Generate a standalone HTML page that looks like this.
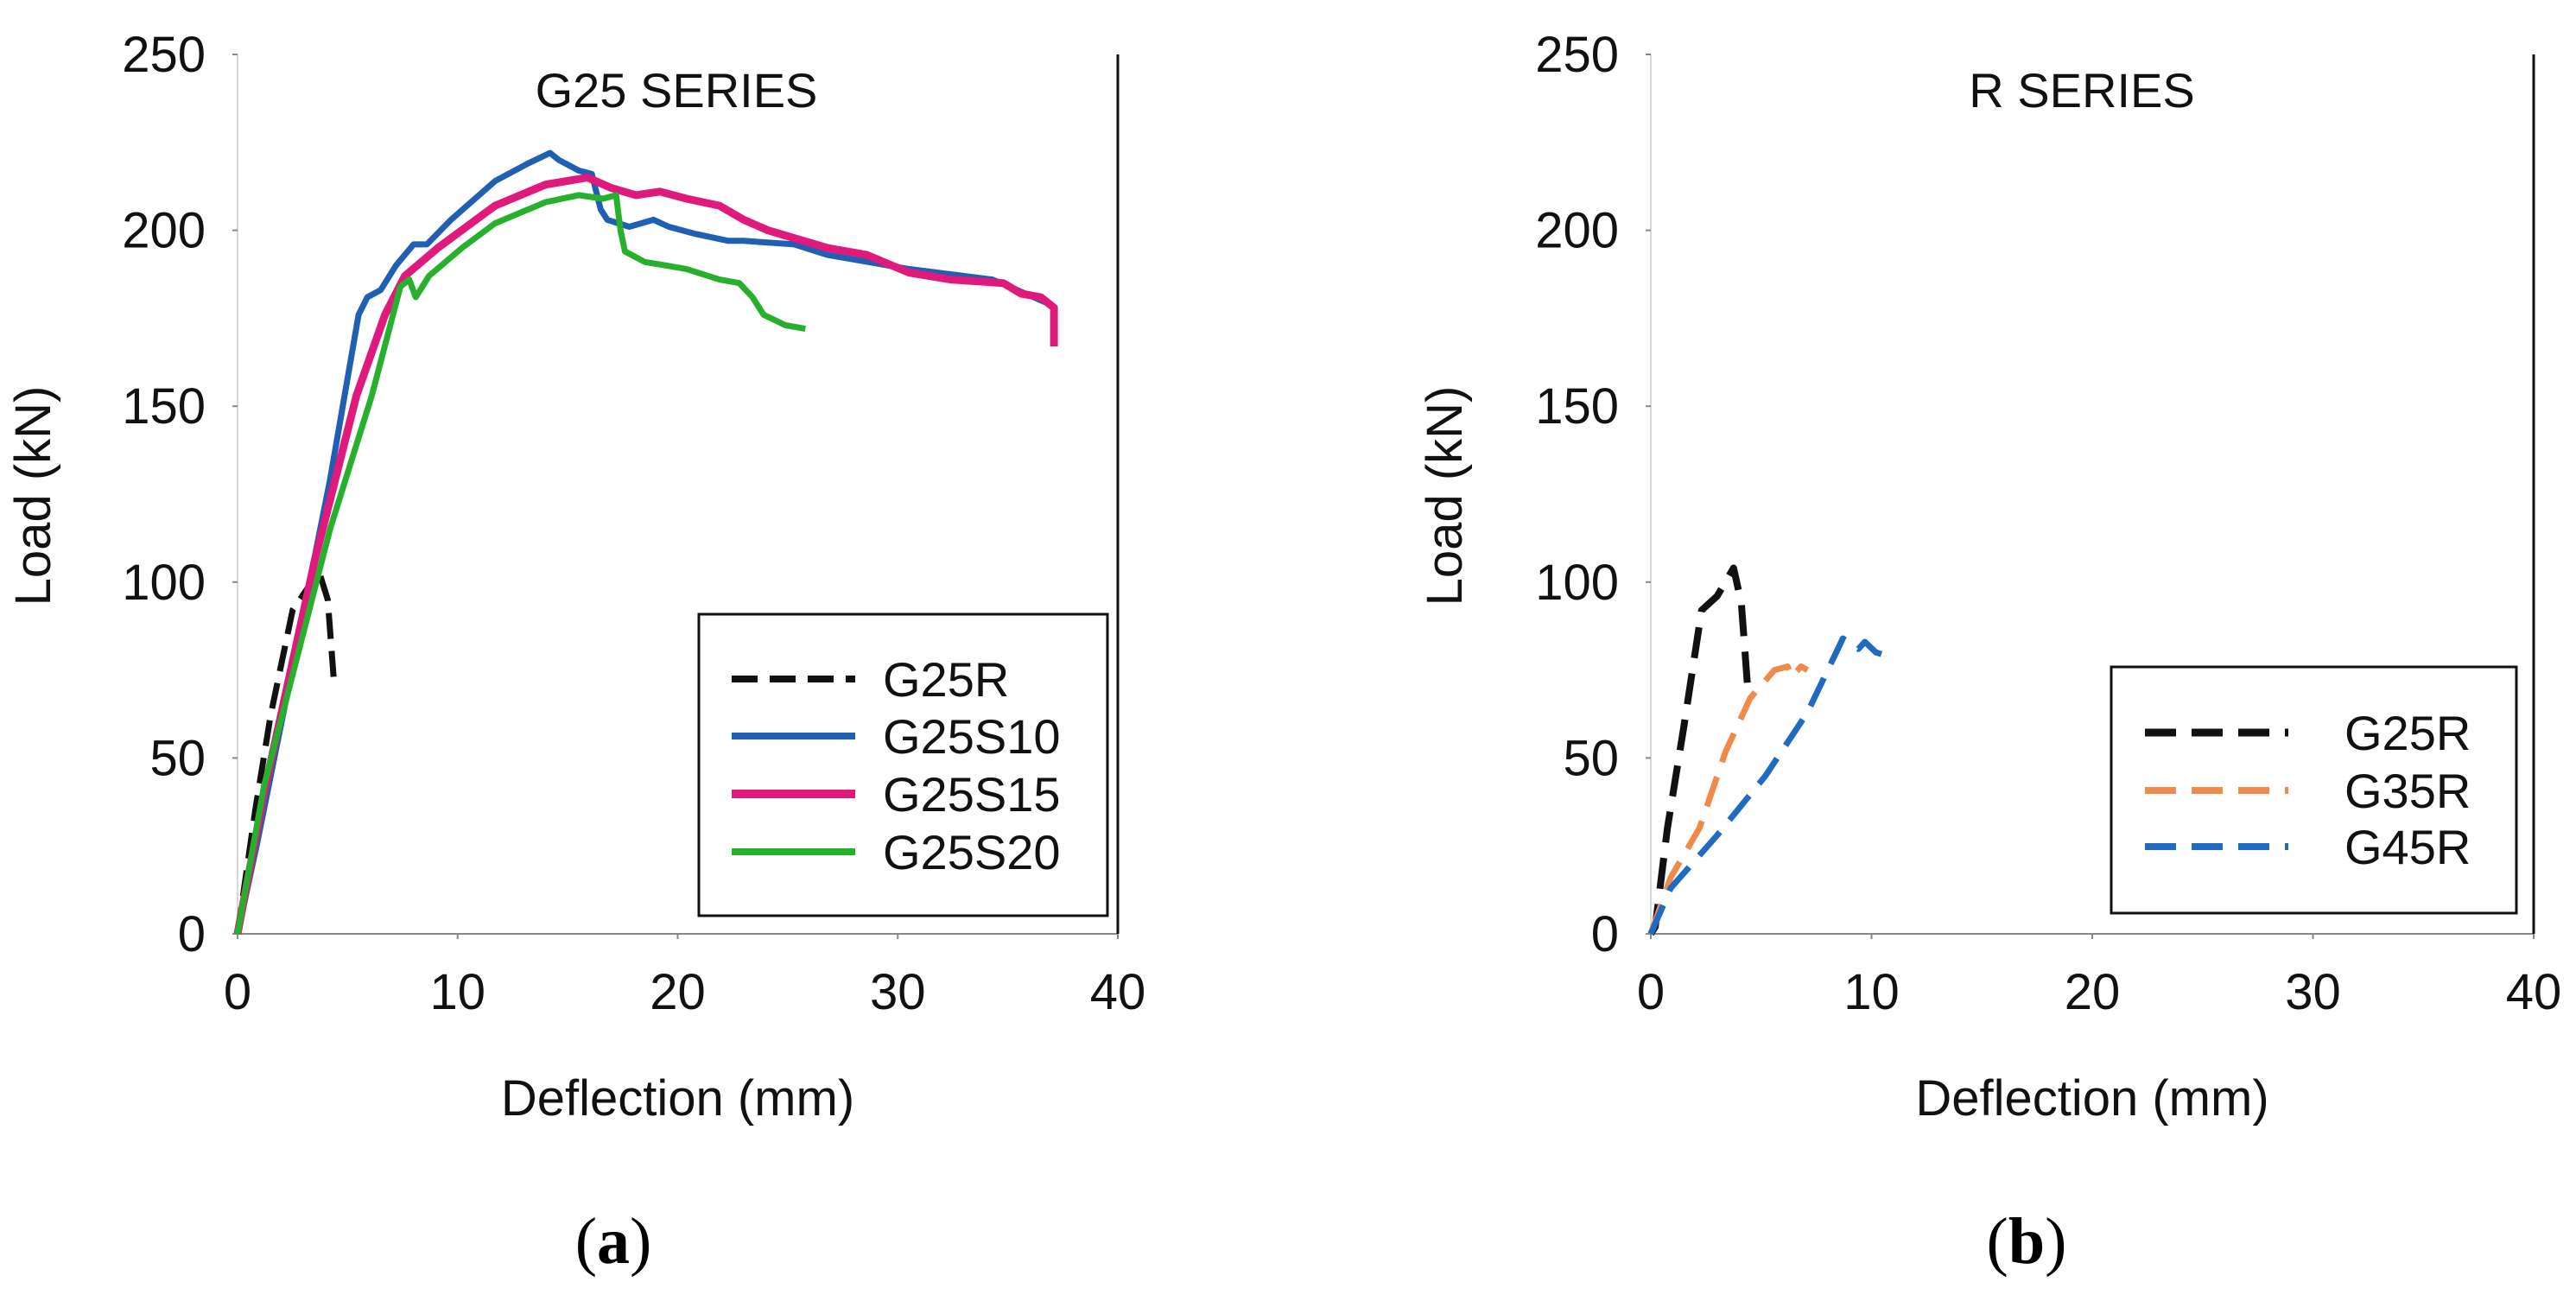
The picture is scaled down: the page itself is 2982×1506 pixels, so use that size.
<!DOCTYPE html>
<html><head><meta charset="utf-8">
<style>
html,body{margin:0;padding:0;background:#fff;}
svg{display:block;font-family:"Liberation Sans",sans-serif;}
</style></head>
<body>
<svg id="fig" width="2982" height="1506" viewBox="0 0 2982 1506"></svg>
<script>
// ---- Panel (a) data ----
const g25rA_x = [0,0.8,1.5,2.5,3.7,4.1,4.4];
const g25rA_y = [0,35,62,92,103,95,70];
const s10_x = [0,0.9,2.7,4.2,5.5,5.9,6.5,7.2,8,8.6,9.7,11.7,13.2,14.2,14.6,15.5,16.1,16.5,16.8,17.8,18.9,19.6,20.8,22.3,23,25.3,26.8,30.5,34.3,35.8,36.9];
const s10_y = [0,26,82,129,176,181,183,190,196,196,203,214,219,222,220,217,216,206,203,201,203,201,199,197,197,196,193,189,186,182,179];
const s15_x = [0,1.2,3.5,5.4,6.7,7.6,9.1,11.7,14,15.9,17,18.1,19.2,20.4,21.9,23,24.1,26.8,28.6,30.5,32.4,34.8,35.6,36.5,37.1,37.1];
const s15_y = [0,40,106,153,176,187,195,207,213,215,212,210,211,209,207,203,200,195,193,188,186,185,182,181,178,167];
const s20_x = [0,1.2,4.2,6.1,7.4,7.8,8.1,8.7,10.2,11.7,14,15.5,16.6,17.2,17.4,17.6,18.5,20.4,21.9,22.8,23.4,23.9,24.9,25.8];
const s20_y = [0,42,115,153,184,186,181,187,195,202,208,210,209,210,200,194,191,189,186,185,181,176,173,172];
// ---- Panel (b) data ----
const g25rB_x = [0,0.2,0.75,1.5,2.3,3,3.75,4.1,4.4];
const g25rB_y = [0,2,30,59,92,96,104,94,69];
const g35r_x = [0,0.9,2.2,3.4,4.5,5.6,6.2,6.4,6.8,7.1];
const g35r_y = [0,16,30,52,67,75,76,73,76,75];
const g45r_x = [0,0.9,3,5.2,7.1,8.4,8.7,9.4,9.7,10.2,10.7];
const g45r_y = [0,13,28,45,63,80,84,81,83,80,79];
const xTicks = [0,10,20,30,40];
const yTicks = [0,50,100,150,200,250];

const NS="http://www.w3.org/2000/svg";
const svg=document.getElementById('fig');
function mk(tag,attrs,parent){const e=document.createElementNS(NS,tag);for(const k in attrs)e.setAttribute(k,attrs[k]);(parent||svg).appendChild(e);return e;}

function panel(opt){
  const g=mk('g',{});
  
  
  const x0=opt.x0,x1=opt.x1,yb=1081,yt=63;
  const sx=v=>x0+(v/40)*(x1-x0);
  const sy=v=>yb-(v/250)*(yb-yt);
  // axes
  const ya=mk('line',{x1:x0,y1:yt,x2:x0,y2:yb,stroke:'#d8d8d8','stroke-width':2},g);
  
  
  const xa=mk('line',{x1:x0,y1:yb,x2:x1,y2:yb,stroke:'#888','stroke-width':2},g);
  
  
  const rb=mk('line',{x1:x1,y1:yt,x2:x1,y2:yb,stroke:'#111','stroke-width':3},g);
  
  
  xTicks.forEach(t=>{
    mk('line',{x1:sx(t),y1:yb,x2:sx(t),y2:yb+6,stroke:'#888','stroke-width':2},g);
    const tx=mk('text',{x:sx(t),y:1168,'font-size':58,'text-anchor':'middle',fill:'#111'},g);
    tx.textContent=t;
    
    
  });
  yTicks.forEach(t=>{
    mk('line',{x1:x0-6,y1:sy(t),x2:x0,y2:sy(t),stroke:'#888','stroke-width':2},g);
    const tx=mk('text',{x:x0-37,y:sy(t)+20,'font-size':58,'text-anchor':'end',fill:'#111'},g);
    tx.textContent=t;
    
    
  });
  const title=mk('text',{x:opt.titleX,y:124,'font-size':56,'text-anchor':'middle',fill:'#111'},g);
  title.textContent=opt.title;
  
  
  const xl=mk('text',{x:(x0+x1)/2,y:1291,'font-size':58,'text-anchor':'middle',fill:'#111'},g);
  xl.textContent='Deflection (mm)';
  
  
  const yl=mk('text',{x:0,y:0,'font-size':58,'text-anchor':'middle',fill:'#111',transform:`translate(${opt.ylX+20},574) rotate(-90)`},g);
  yl.textContent='Load (kN)';
  
  
  const cap=mk('text',{x:opt.capX,y:1462,'font-size':76,'text-anchor':'middle',fill:'#000','font-family':'Liberation Serif, serif'},g);
  cap.innerHTML='(<tspan font-weight="bold">'+opt.cap+'</tspan>)';
  
  
  // series
  opt.series.forEach(s=>{
    let d='';
    s.x.forEach((v,i)=>{d+=(i?'L':'M')+sx(v).toFixed(1)+','+sy(s.y[i]).toFixed(1);});
    const p=mk('path',{d:d,fill:'none',stroke:s.color,'stroke-width':s.w,'stroke-linejoin':'round','stroke-linecap':'butt'},g);
    if(s.dash)p.setAttribute('stroke-dasharray',s.dash);
    
    
  });
  // legend
  const L=opt.legend;
  const lb=mk('rect',{x:L.x,y:L.y,width:L.w,height:L.h,fill:'#fff',stroke:'#111','stroke-width':3},g);
  
  
  opt.series.forEach((s,i)=>{
    const yy=L.rows[i];
    const ln=mk('line',{x1:L.lx0,y1:yy,x2:L.lx1,y2:yy,stroke:s.color,'stroke-width':s.w+1},g);
    if(s.dash)ln.setAttribute('stroke-dasharray',s.dash);
    
    
    const t=mk('text',{x:L.tx,y:yy+20,'font-size':56,fill:'#111'},g);
    t.textContent=s.label;
    
    
  });
}

panel({name:'panel-a',x0:275,x1:1294,title:'G25 SERIES',titleX:783,ylX:38,capX:710,cap:'a',
  series:[
    {label:'G25R',x:g25rA_x,y:g25rA_y,color:'#111',w:7,dash:'30 14'},
    {label:'G25S10',x:s10_x,y:s10_y,color:'#1f5fb4',w:7},
    {label:'G25S15',x:s15_x,y:s15_y,color:'#e0197d',w:9},
    {label:'G25S20',x:s20_x,y:s20_y,color:'#26b02c',w:7}],
  legend:{x:809,y:711,w:473,h:349,rows:[786,852,919,986],lx0:847,lx1:990,tx:1022}});

panel({name:'panel-b',x0:1911,x1:2933,title:'R SERIES',titleX:2410,ylX:1672,capX:2346,cap:'b',
  series:[
    {label:'G25R',x:g25rB_x,y:g25rB_y,color:'#111',w:8,dash:'36 18'},
    {label:'G35R',x:g35r_x,y:g35r_y,color:'#f08a4b',w:7,dash:'36 18'},
    {label:'G45R',x:g45r_x,y:g45r_y,color:'#1f6bc4',w:7,dash:'36 18'}],
  legend:{x:2444,y:772,w:469,h:285,rows:[848,915,980],lx0:2483,lx1:2649,tx:2714}});
</script>
</body></html>
